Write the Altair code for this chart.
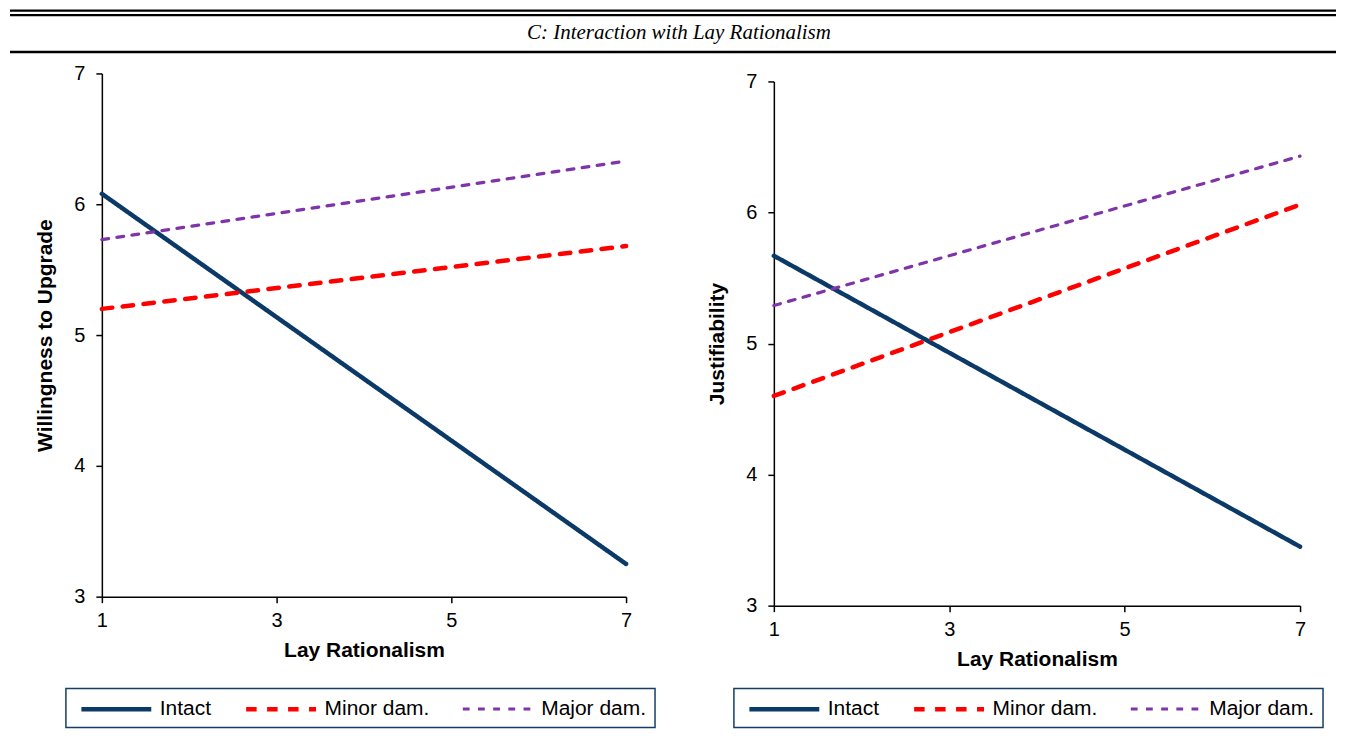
import altair as alt
import pandas as pd

# ---------------- data ----------------
title_text = "C: Interaction with Lay Rationalism"
series = ["Intact", "Minor dam.", "Major dam."]
x_vals = [1, 7]
x_title = "Lay Rationalism"
left_title = "Willingness to Upgrade"
right_title = "Justifiability"

will_intact = [6.08, 3.25]
will_minor = [5.20, 5.68]
will_major = [5.73, 6.33]

just_intact = [5.67, 3.45]
just_minor = [4.60, 6.06]
just_major = [5.29, 6.43]

x_ticks = [1, 3, 5, 7]
y_ticks = [3, 4, 5, 6, 7]

# ---------------- style ----------------
colors = ["#0b3a68", "#ff0000", "#7f35a8"]
dashes = [[1, 0], [10.5, 10.5], [6.8, 8.4]]
widths = [4.5, 4.5, 3.2]
FONT = "Liberation Sans"


def make_df(a, b, c):
    rows = []
    for name, vals in zip(series, [a, b, c]):
        for xv, yv in zip(x_vals, vals):
            rows.append({"series": name, "x": xv, "y": yv})
    return pd.DataFrame(rows)


def panel(df, ytitle, w, h, yrange, lx, ly):
    leg = alt.Legend(
        title=None,
        orient="none",
        legendX=lx,
        legendY=ly,
        direction="horizontal",
        columns=3,
        symbolType="M-0.5,0H6.5",
        symbolSize=400,
        labelOffset=61,
        columnPadding=25,
        padding=8,
        strokeColor="#173d66",
        labelFont=FONT,
        labelFontSize=21,
        labelColor="black",
    )
    return (
        alt.Chart(df)
        .mark_line(strokeCap="round")
        .encode(
            x=alt.X(
                "x:Q",
                scale=alt.Scale(domain=[1, 7], nice=False, zero=False),
                axis=alt.Axis(values=x_ticks, title=x_title, labelPadding=8, titlePadding=9),
            ),
            y=alt.Y(
                "y:Q",
                scale=alt.Scale(domain=[3, 7], nice=False, zero=False, range=yrange),
                axis=alt.Axis(values=y_ticks, title=ytitle, labelPadding=11, titlePadding=18),
            ),
            color=alt.Color("series:N", scale=alt.Scale(domain=series, range=colors), legend=leg),
            strokeDash=alt.StrokeDash("series:N", scale=alt.Scale(domain=series, range=dashes), legend=leg),
            strokeWidth=alt.StrokeWidth(
                "series:N", scale=alt.Scale(type="ordinal", domain=series, range=widths), legend=leg
            ),
        )
        .properties(width=w, height=h)
    )


left = panel(make_df(will_intact, will_minor, will_major), left_title, 525, 524, [524, 0], -36, 616)
right = panel(make_df(just_intact, just_minor, just_major), right_title, 527, 533, [533, 8], -40, 616)

# ---------------- header ----------------
one = pd.DataFrame({"k": [0]})
rule1 = alt.Chart(one).mark_rule(color="black", strokeWidth=2.2).encode(
    x=alt.value(-92), x2=alt.value(1236), y=alt.value(2)
)
rule2 = alt.Chart(one).mark_rule(color="black", strokeWidth=2.2).encode(
    x=alt.value(-92), x2=alt.value(1236), y=alt.value(6.5)
)
rule3 = alt.Chart(one).mark_rule(color="black", strokeWidth=2.5).encode(
    x=alt.value(-92), x2=alt.value(1236), y=alt.value(43.5)
)
htext = alt.Chart(one).mark_text(
    text=title_text,
    font="Liberation Serif",
    fontStyle="italic",
    fontSize=21,
    align="center",
    baseline="middle",
    color="black",
).encode(x=alt.value(578), y=alt.value(25))
header = alt.layer(rule1, rule2, rule3, htext).properties(width=525, height=45)

panels = (
    alt.hconcat(left, right, spacing=50)
    .resolve_scale(color="independent", strokeDash="independent", strokeWidth="independent")
    .resolve_legend(color="independent", strokeDash="independent", strokeWidth="independent")
)

chart = (
    alt.vconcat(header, panels, spacing=10, padding={"left": 0, "top": 0, "right": 0, "bottom": 0})
    .configure_view(strokeWidth=0)
    .configure_axis(
        grid=False,
        domainColor="black",
        domainWidth=1.5,
        tickColor="black",
        tickWidth=1.5,
        tickSize=6,
        labelFont=FONT,
        labelFontSize=20,
        labelColor="black",
        labelFlush=False,
        titleFont=FONT,
        titleFontSize=21,
        titleFontWeight="bold",
        titleColor="black",
    )
    .configure_legend(strokeWidth=1.5)
)

chart.save("out.html", embed_options={"renderer": "svg", "actions": False})
